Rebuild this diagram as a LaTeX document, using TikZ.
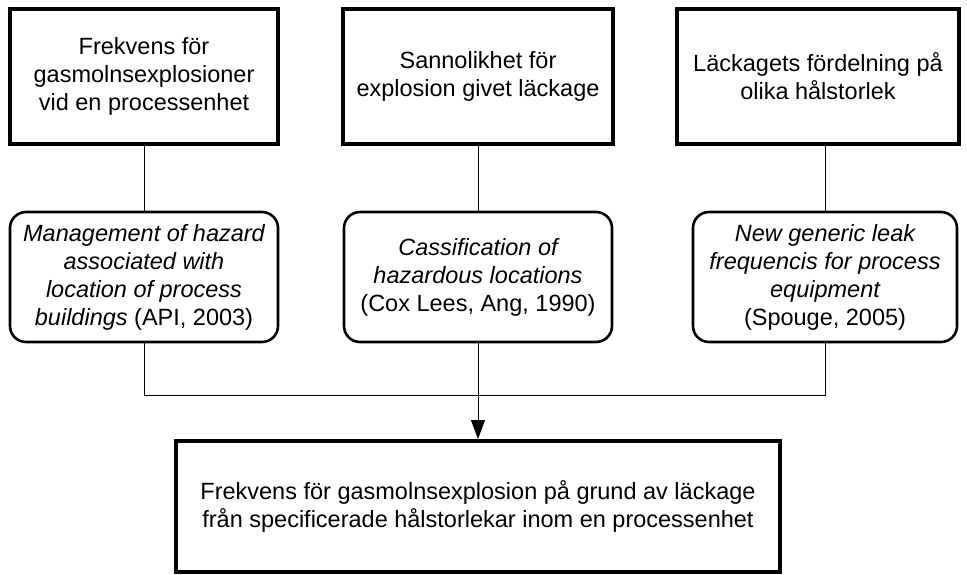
\documentclass[tikz,border=0pt]{standalone}
\usepackage{fontspec}
\setmainfont{Liberation Sans}
\usetikzlibrary{arrows.meta}
\begin{document}
\begin{tikzpicture}[x=1pt,y=-1pt,
  topbox/.style={draw,line width=4pt,minimum height=135pt,align=center,font=\fontsize{23.5pt}{28pt}\selectfont,inner sep=0pt},
  refbox/.style={draw,line width=2.6pt,rounded corners=16pt,minimum height=130pt,align=center,font=\fontsize{23.5pt}{28pt}\selectfont,inner sep=0pt},
  conn/.style={line width=1pt}]
\useasboundingbox (0,0) rectangle (967,574);
\node[topbox,minimum width=268pt] (t1) at (144,76.5) {Frekvens för\\gasmolnsexplosioner\\vid en processenhet};
\node[topbox,minimum width=270pt] (t2) at (478,76.5) {Sannolikhet för\\explosion givet läckage};
\node[topbox,minimum width=282pt] (t3) at (818,76.5) {Läckagets fördelning på\\olika hålstorlek};
\node[refbox,minimum width=268pt] (r1) at (144,277) {\itshape Management of hazard\\\itshape associated with\\\itshape location of process\\{\itshape buildings} (API, 2003)};
\node[refbox,minimum width=268pt] (r2) at (478,277) {\itshape Cassification of\\\itshape hazardous locations\\(Cox Lees, Ang, 1990)};
\node[refbox,minimum width=264pt] (r3) at (825,277) {\itshape New generic leak\\\itshape frequencis for process\\\itshape equipment\\(Spouge, 2005)};
\node[topbox,minimum width=604pt,minimum height=131pt] (b) at (478,506.5) {Frekvens för gasmolnsexplosion på grund av läckage\\från specificerade hålstorlekar inom en processenhet};
\coordinate (j1) at (144,395);
\coordinate (j3) at (825,395);
\coordinate (jm) at (478,395);
\draw[conn] (t1.south) -- (r1.north);
\draw[conn] (t2.south) -- (r2.north);
\draw[conn] (r3.north |- t3.south) -- (r3.north);
\draw[conn] (r1.south) -- (j1) -- (j3) -- (r3.south);
\draw[conn] (r2.south) -- (jm);
\draw[conn,-{Triangle[length=19pt,width=14pt]}] (jm) -- (b.north);
\end{tikzpicture}
\end{document}
